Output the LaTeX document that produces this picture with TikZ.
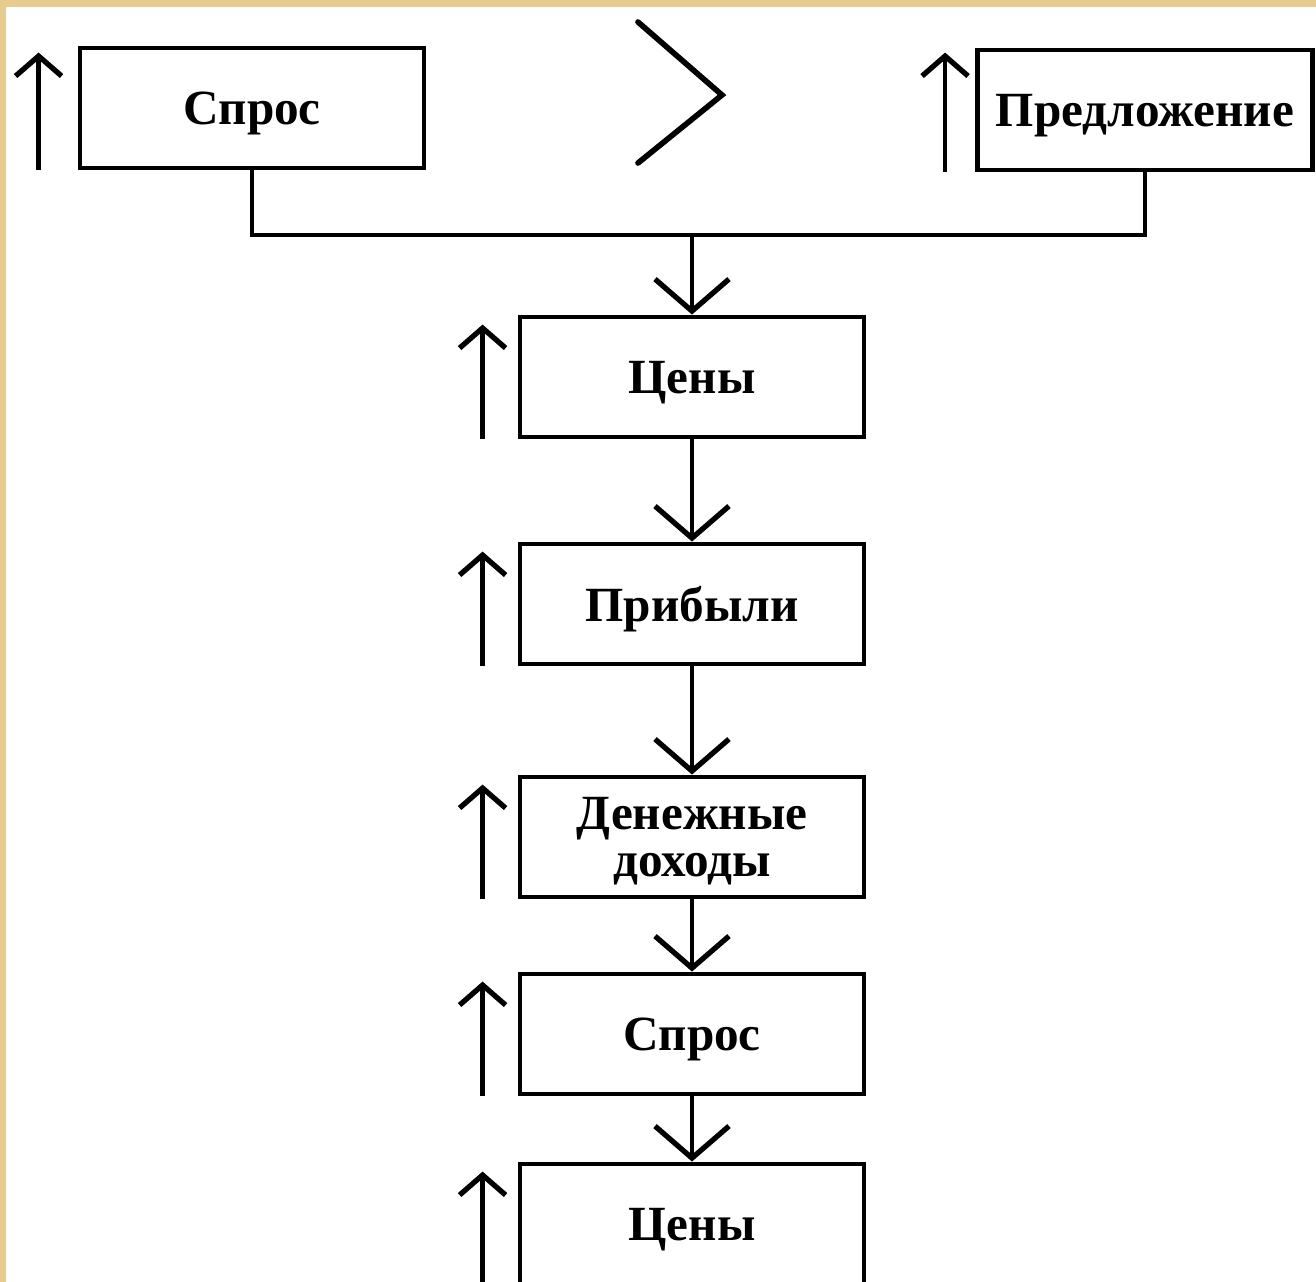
\documentclass[tikz,border=0pt]{standalone}
\usepackage{fontspec}
\setmainfont{Liberation Serif}
\usetikzlibrary{arrows.meta,positioning}
\definecolor{frametan}{RGB}{232,204,142}
\tikzstyle{block}=[rectangle, draw=black, line width=2.8pt,
    minimum width=6.88cm, minimum height=2.4cm, align=center,
    text depth=0pt, font=\bfseries\fontsize{28}{27}\selectfont]
\tikzstyle{line}=[draw, line width=2.4pt]
\tikzstyle{arrow}=[line, -{Straight Barb[length=6.4mm,width=14.8mm,line width=3pt]}]
\tikzstyle{rise}=[draw, line width=2.6pt, -{Straight Barb[length=4mm,width=9.2mm,line width=3pt]}]

\begin{document}
\begin{tikzpicture}[x=0.02cm, y=-0.02cm]
  \clip (0,0) rectangle (1316,1282);
  \fill[frametan] (0,0) rectangle (1316,1282);
  \fill[white] (6,7) rectangle (1316,1282);

  % top row
  \node [block] (demand) at (252,108) {Спрос};
  \node [block, minimum width=6.7cm] (supply) at (1145,110) {Предложение};
  \coordinate (join) at (692,235);

  % chain
  \node [block] (prices)  at (692,377)  {Цены};
  \node [block] (profits) at (692,604)  {Прибыли};
  \node [block] (income)  at (692,837)  {Денежные\\доходы};
  \node [block] (demandb) at (692,1034) {Спрос};
  \node [block] (pricesb) at (692,1224) {Цены};

  % greater-than sign
  \draw [line width=3.2pt, line cap=round] (638,22) -- (722,95) -- (638,163);

  \draw [rise] ([xshift=-0.78cm]demand.south west) -- ([xshift=-0.78cm,yshift=-0.14cm]demand.north west);
  \draw [rise] ([xshift=-0.6cm]supply.south west) -- ([xshift=-0.6cm,yshift=-0.1cm]supply.north west);
  \foreach \n in {prices,profits,income,demandb,pricesb}
    \draw [rise] ([xshift=-0.7cm]\n.south west) -- ([xshift=-0.7cm,yshift=-0.2cm]\n.north west);

  \path [line] (demand.south) |- (join) -| (supply.south);
  \path [arrow] (join) -- (prices);
  \foreach \a/\b in {prices/profits,profits/income,income/demandb,demandb/pricesb}
    \path [arrow] (\a) -- (\b);
\end{tikzpicture}
\end{document}
